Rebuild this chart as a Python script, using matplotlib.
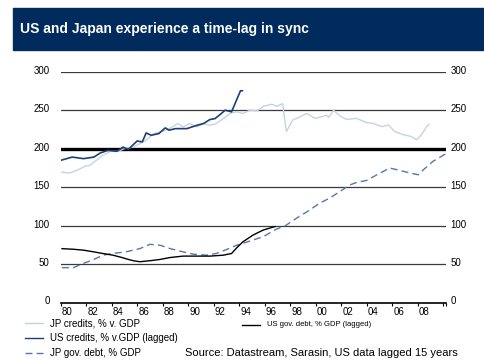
import matplotlib
matplotlib.use("Agg")
import matplotlib.pyplot as plt
import matplotlib.transforms as mtransforms
from matplotlib.patches import Rectangle
from matplotlib.lines import Line2D

plt.rcParams['font.family'] = ['Liberation Sans', 'DejaVu Sans']

# JP credits, % of GDP
jp_cred_yr = [1980.0, 1980.7, 1981.25, 1981.9, 1982.3, 1982.8, 1983.3, 1984.0,
              1984.5, 1985.0, 1985.7, 1986.2, 1986.7, 1987.3, 1987.8, 1988.3,
              1989.2, 1989.6, 1990.1, 1990.7, 1991.2, 1991.7, 1992.2, 1992.75,
              1993.3, 1993.8, 1994.3, 1994.85, 1995.4, 1995.9, 1996.55, 1996.95,
              1997.4, 1997.7, 1998.2, 1998.5, 1999.3, 1999.95, 2000.5, 2000.85,
              2001.0, 2001.4, 2001.8, 2002.4, 2003.2, 2004.0, 2004.5, 2005.2,
              2005.7, 2006.2, 2006.9, 2007.5, 2007.9, 2008.3, 2008.7, 2008.9]
jp_cred = [169.6, 168.3, 171.7, 177.0, 178.3, 184.8, 191.3, 197.0,
           196.5, 200.0, 202.0, 206.5, 211.0, 219.6, 221.7, 224.0,
           232.6, 228.3, 232.6, 228.3, 232.6, 230.4, 232.6, 239.0,
           245.7, 247.9, 245.7, 250.0, 249.1, 255.0, 257.7, 255.0,
           258.5, 222.2, 237.2, 239.3, 245.7, 239.3, 241.5, 243.6,
           240.6, 250.0, 243.6, 238.0, 239.3, 233.8, 232.9, 228.6,
           230.8, 222.2, 218.0, 215.8, 211.5, 218.0, 228.6, 231.6]

# US credits, % of GDP, lagged 15 years
us_cred_yr = [1980.0, 1980.9, 1981.8, 1982.6, 1983.1, 1983.7, 1984.4, 1984.9,
              1985.3, 1986.0, 1986.4, 1986.7, 1987.1, 1987.7, 1988.2, 1988.5,
              1989.0, 1989.9, 1990.7, 1991.2, 1991.7, 1992.1, 1992.5, 1992.9,
              1993.4, 1994.1, 1994.25]
us_cred = [184.8, 189.0, 187.0, 189.0, 194.3, 197.8, 196.5, 202.0,
           199.0, 210.0, 208.7, 220.4, 217.4, 219.6, 227.0, 224.0,
           226.0, 226.0, 230.4, 232.6, 237.8, 239.0, 244.3, 250.0,
           247.8, 275.2, 275.2]

# JP government debt, % of GDP
jp_debt_yr = [1980.1, 1981.0, 1981.8, 1982.6, 1983.3, 1984.1, 1985.1, 1986.2,
              1987.0, 1987.8, 1988.6, 1989.6, 1990.4, 1991.4, 1992.2, 1993.0,
              1993.8, 1994.6, 1995.9, 1996.9, 1997.6, 1998.5, 1999.55, 2000.3,
              2001.1, 2001.9, 2002.7, 2003.2, 2004.0, 2004.8, 2005.8, 2006.6,
              2007.4, 2008.05, 2008.45, 2009.2, 2010.3]
jp_debt = [45.3, 45.3, 50.9, 56.0, 61.5, 63.7, 65.8, 70.0,
           75.6, 74.4, 70.0, 65.8, 62.8, 61.5, 63.7, 68.8,
           74.4, 78.6, 85.7, 95.2, 99.6, 109.6, 120.4, 129.0,
           135.7, 144.3, 153.0, 156.0, 158.7, 166.0, 174.8, 171.7,
           168.3, 166.0, 172.6, 183.5, 194.3]

# US government debt, % of GDP, lagged 15 years
us_debt_yr = [1980.1, 1981.0, 1981.8, 1982.6, 1983.3, 1984.1, 1984.8, 1985.3,
              1985.7, 1986.2, 1987.0, 1987.8, 1988.6, 1989.6, 1990.7, 1991.7,
              1992.75, 1993.4, 1993.8, 1994.3, 1995.1, 1995.9, 1996.8]
us_debt = [70.0, 69.2, 68.0, 65.8, 63.7, 61.5, 58.5, 56.0,
           54.3, 53.0, 54.3, 56.0, 58.5, 60.3, 60.3, 60.3,
           61.5, 63.7, 71.0, 79.0, 87.8, 94.3, 98.7]

year_ticks = list(range(1980, 2011, 2))
year_labels = ['%02d' % (y % 100) for y in range(1980, 2010, 2)]
y_ticks = [0, 50, 100, 150, 200, 250, 300]

navy = '#002b5c'
c_jp_cred = '#c6d2e3'
c_us_cred = '#1d3f78'
c_jp_debt = '#5877a6'

fig = plt.figure(figsize=(4.84, 3.63), dpi=100)

# title banner
fig.patches.append(Rectangle((13 / 484, 1 - 50 / 363), 1, 42 / 363,
                             transform=fig.transFigure, color=navy, zorder=0))
fig.text(20 / 484, 1 - 29 / 363, 'US and Japan experience a time-lag in sync',
         color='white', fontsize=10, fontweight='bold', va='center')

ax = fig.add_axes([60.7 / 484, 1 - 302.5 / 363, 385.7 / 484, 230.8 / 363])
ax.set_xlim(1980, 2010.25)
ax.set_ylim(0, 300)

for v in y_ticks[1:]:
    ax.axhline(v, color='black' if v == 200 else '#3a3a3a',
               lw=2.4 if v == 200 else 0.9, zorder=1)

ax.plot(jp_cred_yr, jp_cred, color=c_jp_cred, lw=1.0, zorder=3)
ax.plot(us_cred_yr, us_cred, color=c_us_cred, lw=1.2, zorder=4)
ax.plot(jp_debt_yr, jp_debt, color=c_jp_debt, lw=1.0, ls=(0, (5, 3)), zorder=3)
ax.plot(us_debt_yr, us_debt, color='black', lw=1.0, zorder=4)

for s in ['top', 'right', 'left']:
    ax.spines[s].set_visible(False)
ax.spines['bottom'].set_linewidth(1.2)

# year ticks at the start of each year, labels centred on the year
ax.set_xticks(year_ticks + [2010.25])
ax.set_xticklabels([])
ax.set_xticks([y + 0.5 for y in range(1980, 2010, 2)], minor=True)
ax.set_xticklabels(year_labels, minor=True)
ax.tick_params(axis='x', which='major', direction='out', length=2.5, width=0.8)
ax.tick_params(axis='x', which='minor', length=0, pad=3, labelsize=7)

ax.set_yticks(y_ticks)
ax.tick_params(axis='y', length=0, labelsize=7, labelleft=True,
               labelright=True, pad=8)
up = mtransforms.ScaledTranslation(0, 2 / 100, fig.dpi_scale_trans)
up_left = mtransforms.ScaledTranslation(-7 / 100, 2 / 100, fig.dpi_scale_trans)
for t in ax.yaxis.get_major_ticks():
    t.label1.set_transform(t.label1.get_transform() + up)
    t.label2.set_transform(t.label2.get_transform() + up_left)


def legend_row(x0, y, color, ls, text, size):
    fig.add_artist(Line2D([x0 / 484, (x0 + 18) / 484], [1 - y / 363] * 2,
                          color=color, lw=1.0, ls=ls))
    fig.text((x0 + 25) / 484, 1 - y / 363, text, fontsize=size, va='center')


legend_row(25, 323, c_jp_cred, '-', 'JP credits, % v. GDP', 7)
legend_row(25, 338, c_us_cred, '-', 'US credits, % v.GDP (lagged)', 7)
legend_row(25, 353, c_jp_debt, (0, (5, 3)), 'JP gov. debt, % GDP', 7)
legend_row(242, 325, 'black', '-', 'US gov. debt, % GDP (lagged)', 5.5)

fig.text(185 / 484, 1 - 353 / 363,
         'Source: Datastream, Sarasin, US data lagged 15 years',
         fontsize=8, va='center')

fig.savefig('out.png', dpi=100)
